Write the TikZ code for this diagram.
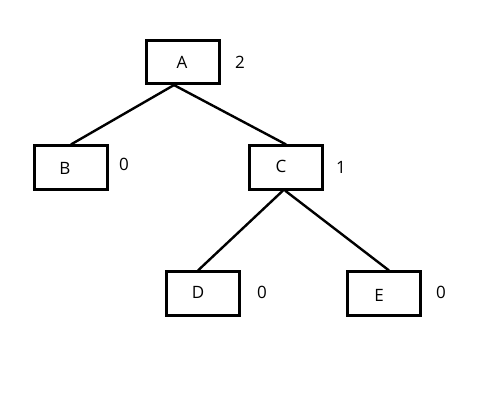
\documentclass[tikz,border=0pt]{standalone}
\usepackage{fontspec}
\setmainfont{Open Sans}
\begin{document}
\begin{tikzpicture}[x=1pt,y=-1pt,
  box/.style={draw,line width=2.6pt,minimum width=73.5pt,minimum height=43.5pt,inner sep=0pt},
  lbl/.style={font=\fontsize{17}{20}\selectfont,inner sep=0pt},
  edge/.style={line width=2.4pt}]
\useasboundingbox (0,0) rectangle (497,418);
\fill[white] (0,0) rectangle (497,418);
\node[box] (A) at (183,62) {};
\node[box] (B) at (71,167.5) {};
\node[box] (C) at (286,167.5) {};
\node[box] (D) at (203,293.5) {};
\node[box] (E) at (384,293.5) {};
\node[lbl] (tA) at (182,62) {A};
\node[lbl] (tB) at (65,168) {B};
\node[lbl] (tC) at (281,166) {C};
\node[lbl] (tD) at (198,292) {D};
\node[lbl] (tE) at (379,295) {E};
\node[lbl] (nA) at (240,62) {2};
\node[lbl] (nB) at (124,164) {0};
\node[lbl] (nC) at (341,167) {1};
\node[lbl] (nD) at (262,292) {0};
\node[lbl] (nE) at (441,292) {0};
\draw[edge] ([xshift=-9pt]A.south) -- (B.north);
\draw[edge] ([xshift=-9pt]A.south) -- (C.north);
\draw[edge] ([xshift=-3pt]C.south) -- ([xshift=-5pt]D.north);
\draw[edge] ([xshift=-1pt]C.south) -- ([xshift=5pt]E.north);
\end{tikzpicture}
\end{document}
